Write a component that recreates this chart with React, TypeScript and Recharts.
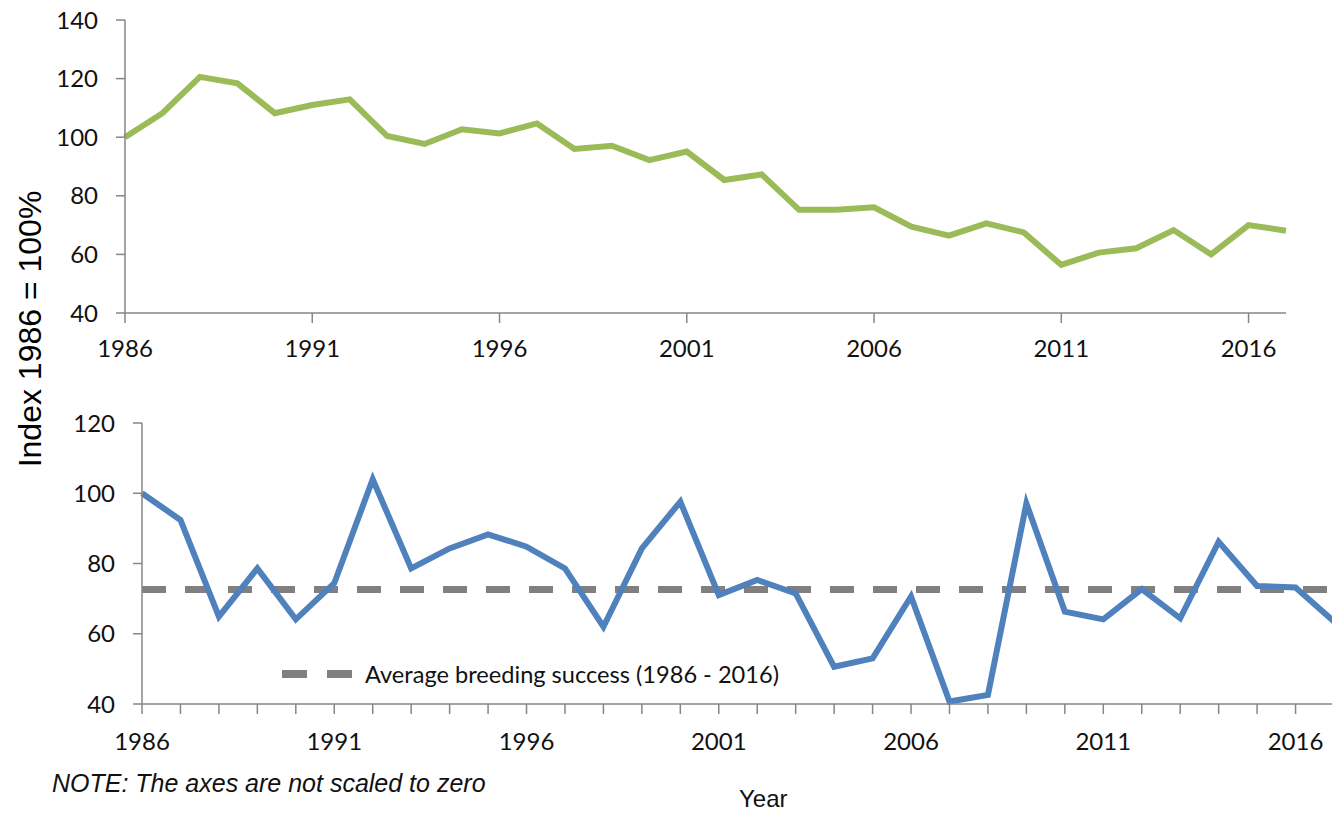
import { LineChart, Line, XAxis, YAxis, ReferenceLine } from "recharts"

const years = [
  1986, 1987, 1988, 1989, 1990, 1991, 1992, 1993, 1994, 1995, 1996, 1997, 1998, 1999, 2000, 2001,
  2002, 2003, 2004, 2005, 2006, 2007, 2008, 2009, 2010, 2011, 2012, 2013, 2014, 2015, 2016, 2017,
]

const populationIndex = [
  100, 108.2, 120.6, 118.4, 108.2, 111, 112.9, 100.4, 97.7, 102.7, 101.3, 104.7, 96, 97.1, 92.2, 95.1,
  85.4, 87.3, 75.2, 75.2, 76.1, 69.5, 66.4, 70.6, 67.5, 56.4, 60.6, 62.1, 68.3, 60, 70, 68.1,
]

const breedingIndex = [
  100, 92.4, 64.9, 78.6, 64.1, 74.4, 104, 78.6, 84.3, 88.3, 84.8, 78.6, 62, 84.3, 97.6, 71,
  75.3, 71.5, 50.6, 53, 70.6, 40.7, 42.6, 97.1, 66.3, 64.1, 72.7, 64.4, 86.2, 73.6, 73.2, 63.5,
]

const averageBreeding = 72.6

const topYTicks = [40, 60, 80, 100, 120, 140]
const bottomYTicks = [40, 60, 80, 100, 120]
const labelYears = [1986, 1991, 1996, 2001, 2006, 2011, 2016]

const topData = years.map((year, i) => ({ year, value: populationIndex[i] }))
const bottomData = years.map((year, i) => ({ year, value: breedingIndex[i] }))

const axisColor = "#868686"
const tickFont = { fill: "#111", fontSize: 24, fontFamily: "Lato, 'Open Sans', sans-serif" }

export default function App() {
  return (
    <div
      style={{
        position: "absolute",
        left: 0,
        top: 0,
        width: 1332,
        height: 815,
        overflow: "hidden",
        background: "#fff",
      }}
    >
      <div style={{ position: "absolute", left: 0, top: 0 }}>
        <LineChart width={1300} height={375} data={topData} margin={{ top: 20, right: 14, bottom: 0, left: 0 }}>
          <XAxis
            dataKey="year"
            type="number"
            domain={[1986, 2017]}
            ticks={labelYears}
            height={62}
            tick={tickFont}
            tickSize={10}
            tickMargin={17}
            stroke={axisColor}
            strokeWidth={1.5}
          />
          <YAxis
            domain={[40, 140]}
            ticks={topYTicks}
            width={125}
            tick={tickFont}
            tickSize={9}
            tickMargin={18}
            stroke={axisColor}
            strokeWidth={1.5}
            interval={0}
          />
          <Line
            dataKey="value"
            stroke="#9BBB59"
            strokeWidth={6}
            dot={false}
            type="linear"
            isAnimationActive={false}
          />
        </LineChart>
      </div>

      <div style={{ position: "absolute", left: 0, top: 400 }}>
        <LineChart width={1340} height={365} data={bottomData} margin={{ top: 23, right: 6, bottom: 0, left: 0 }}>
          <XAxis
            dataKey="year"
            type="number"
            domain={[1986, 2017]}
            ticks={years}
            interval={0}
            tickFormatter={(y: number) => ((y - 1986) % 5 === 0 ? String(y) : "")}
            height={61}
            tick={tickFont}
            tickSize={10}
            tickMargin={19}
            stroke={axisColor}
            strokeWidth={1.5}
          />
          <YAxis
            domain={[40, 120]}
            ticks={bottomYTicks}
            width={142}
            tick={tickFont}
            tickSize={9}
            tickMargin={18}
            stroke={axisColor}
            strokeWidth={1.5}
            interval={0}
          />
          <ReferenceLine y={averageBreeding} stroke="#808080" strokeWidth={7} strokeDasharray="24 19" />
          <Line
            dataKey="value"
            stroke="#4F81BD"
            strokeWidth={6}
            dot={false}
            type="linear"
            isAnimationActive={false}
          />
        </LineChart>
      </div>

      {/* legend for the average line */}
      <div style={{ position: "absolute", left: 282, top: 660, display: "flex", alignItems: "center" }}>
        <svg width={72} height={28}>
          <line x1={0} y1={14} x2={70} y2={14} stroke="#808080" strokeWidth={8} strokeDasharray="25 20" />
        </svg>
        <span
          style={{
            marginLeft: 11,
            fontFamily: "Lato, 'Open Sans', sans-serif",
            fontSize: 23.6,
            color: "#111",
            whiteSpace: "nowrap",
          }}
        >
          Average breeding success (1986 - 2016)
        </span>
      </div>

      <div
        style={{
          position: "absolute",
          left: 30,
          top: 329,
          transform: "translate(-50%, -50%) rotate(-90deg)",
          fontFamily: "'Liberation Sans', Arial, sans-serif",
          fontSize: 32,
          color: "#000",
          whiteSpace: "nowrap",
        }}
      >
        Index 1986 = 100%
      </div>

      <div
        style={{
          position: "absolute",
          left: 52,
          top: 769,
          fontFamily: "'Liberation Sans', Arial, sans-serif",
          fontStyle: "italic",
          fontSize: 25,
          color: "#111",
          whiteSpace: "nowrap",
        }}
      >
        NOTE: The axes are not scaled to zero
      </div>

      <div
        style={{
          position: "absolute",
          left: 739,
          top: 785,
          fontFamily: "'Liberation Sans', Arial, sans-serif",
          fontSize: 24,
          color: "#111",
          whiteSpace: "nowrap",
        }}
      >
        Year
      </div>
    </div>
  )
}
